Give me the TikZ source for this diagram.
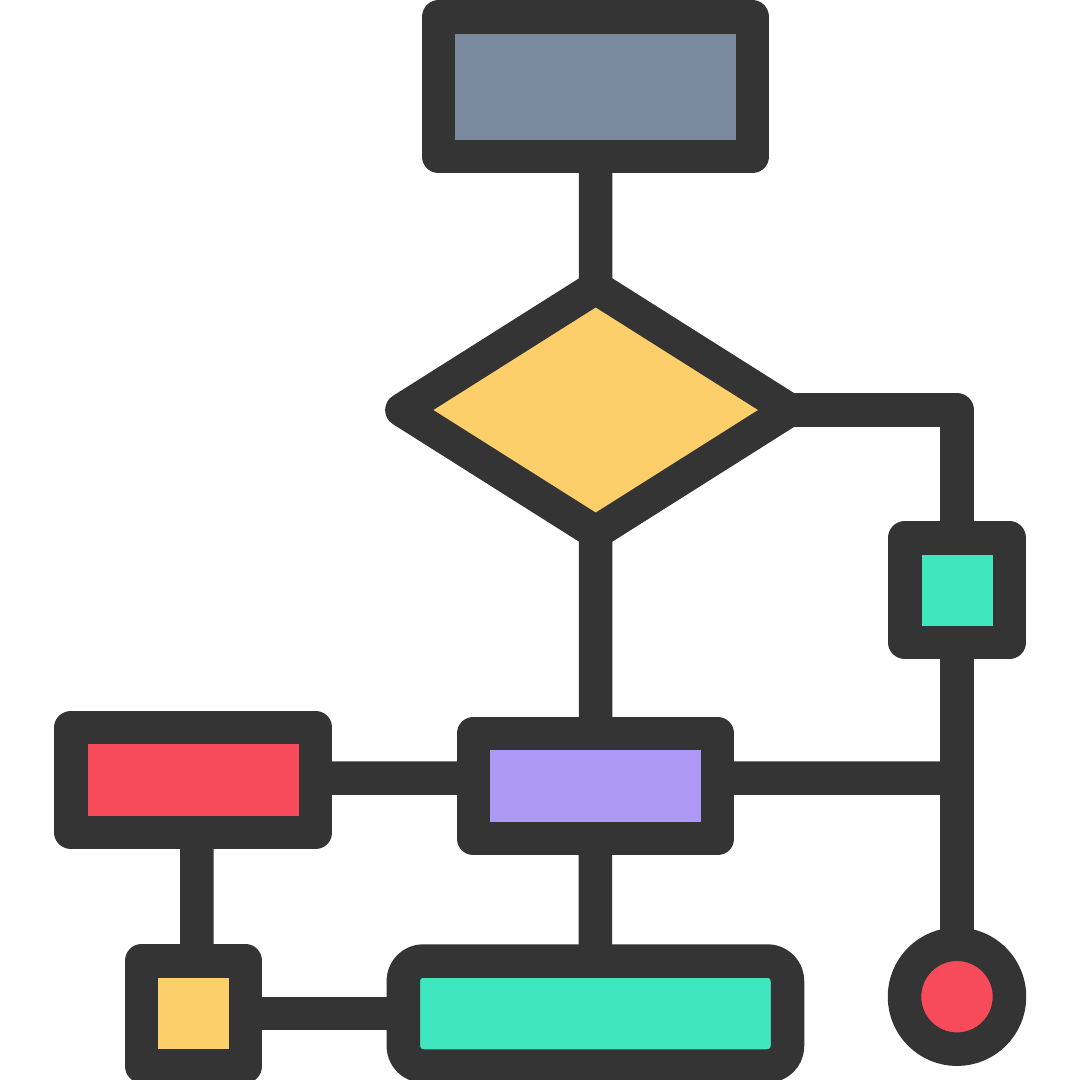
\documentclass[tikz,border=0pt]{standalone}
\usetikzlibrary{shapes.geometric}
\definecolor{ink}{HTML}{343434}
\definecolor{slate}{HTML}{7A899E}
\definecolor{sun}{HTML}{FDCF6A}
\definecolor{mint}{HTML}{40E6BD}
\definecolor{rose}{HTML}{F74A5A}
\definecolor{lilac}{HTML}{AE9AF6}
\begin{document}
\begin{tikzpicture}[x=1pt,y=-1pt,
  thick line/.style={draw=ink,line width=33.5pt,line join=round},
  box/.style={thick line,rectangle,inner sep=0pt,outer sep=0pt},
  conn/.style={draw=ink,line width=33.5pt,line join=round,line cap=butt}]
\useasboundingbox (0,0) rectangle (1080,1080);
% nodes
\node[box,fill=slate,minimum width=314pt,minimum height=139.5pt] (top) at (595.5,86.7) {};
\node[thick line,diamond,fill=sun,inner sep=0pt,outer sep=0pt,minimum width=387.6pt,minimum height=244.8pt] (dia) at (595.7,410) {};
\node[box,fill=mint,minimum width=104.5pt,minimum height=104.5pt] (gsq) at (957,590) {};
\node[thick line,circle,fill=rose,inner sep=0pt,outer sep=0pt,minimum size=105pt] (circ) at (957,996.7) {};
\node[box,fill=lilac,minimum width=244.4pt,minimum height=105pt] (pur) at (595.5,786.2) {};
\node[box,fill=rose,minimum width=244.7pt,minimum height=104.8pt] (red) at (193.3,780) {};
\node[box,fill=sun,minimum width=104.4pt,minimum height=105pt] (ysq) at (193.5,1013.5) {};
\node[box,fill=mint,rounded corners=20pt,minimum width=384.2pt,minimum height=105pt] (bg) at (595.4,1013.5) {};
\coordinate (jn) at (957,778);
% connectors
\draw[conn] (top.south) -- (dia.north);
\draw[conn] (dia.east) -| (gsq.north);
\draw[conn] (dia.south) -- (pur.north);
\draw[conn] (gsq.south) -- (circ.north);
\draw[conn] ([yshift=8pt]pur.east) -- (jn);
\draw[conn] ([yshift=2pt]red.east) -- ([yshift=8pt]pur.west);
\draw[conn] ([xshift=3.5pt]red.south) -- ([xshift=3.5pt]ysq.north);
\draw[conn] (ysq.east) -- (bg.west);
\draw[conn] (pur.south) -- (bg.north);
\end{tikzpicture}
\end{document}
